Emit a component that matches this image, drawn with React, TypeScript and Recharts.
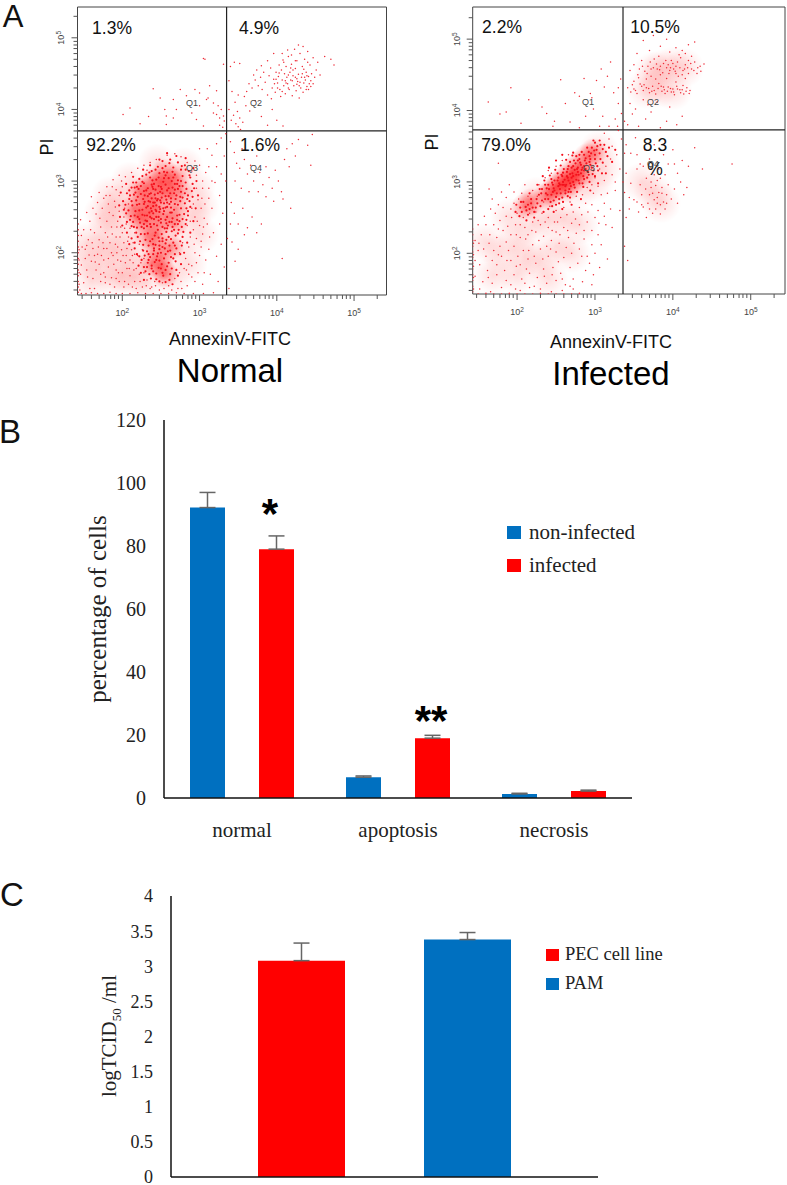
import React from 'react';
import {
  ScatterChart,
  Scatter,
  XAxis,
  YAxis,
  ReferenceLine,
  ReferenceArea,
  BarChart,
  Bar,
  ErrorBar,
  Legend,
} from 'recharts';

// Flow plots: values are log10(intensity) x 100
const normalUpper = [[201,393],[210,402],[223,380],[240,429],[249,416],[257,391],[266,414],[275,428],[305,471],[307,470],[283,419],[300,423],[313,433],[309,414],[322,426],[331,463],[322,393],[326,388],[331,391],[318,395],[257,379],[234,390],[296,386],[305,377],[290,395],[270,400],[300,405],[311,416],[255,400],[266,388],[294,428],[318,409],[324,405],[328,400],[330,375],[326,378],[332,384],[340,460],[345,466],[352,464],[338,440],[342,425],[346,410],[349,397],[352,388],[344,392],[347,380],[350,376],[353,372],[356,382],[360,405],[365,398],[372,412],[380,390],[388,378],[394,400],[400,385],[408,377],[350,420],[358,418],[338,400],[341,385]];
const normalCluster = [[361,425],[364,436],[368,430],[372,441],[370,448],[376,433],[379,445],[383,452],[381,428],[385,438],[388,420],[390,447],[392,458],[394,430],[396,442],[393,415],[398,424],[399,452],[401,437],[403,462],[402,446],[404,428],[405,418],[406,455],[407,441],[408,469],[409,433],[410,450],[411,422],[412,460],[413,445],[414,436],[415,474],[416,428],[417,452],[418,441],[419,463],[420,419],[421,447],[422,433],[423,484],[424,457],[425,426],[426,468],[427,439],[428,449],[429,416],[430,478],[431,430],[432,445],[433,460],[434,424],[435,437],[436,470],[437,441],[438,452],[439,432],[440,481],[441,446],[442,436],[443,462],[444,440],[445,450],[447,472],[449,445],[451,455],[453,466],[456,448],[462,474],[470,470],[474,462],[396,478],[388,468],[380,461],[374,455],[414,483],[428,490],[434,488],[440,466],[419,476],[407,478],[401,430],[397,436],[411,440],[415,430],[420,440],[424,445],[426,435],[430,438],[433,450],[436,445],[438,428],[441,428],[444,432],[447,436],[403,451],[418,458],[426,443],[412,437],[435,456],[409,466],[429,433],[421,455],[415,448],[399,442],[407,425],[424,468],[439,447]];
const normalLowerRight = [[340,355],[345,340],[348,325],[352,318],[355,345],[358,330],[362,310],[366,322],[370,300],[374,335],[378,312],[382,295],[386,320],[390,305],[394,290],[398,315],[402,300],[406,285],[410,330],[413,345],[416,320],[420,352],[424,335],[428,358],[440,350],[446,365],[444,322],[418,262],[408,275],[396,272],[386,278],[376,285],[364,285],[354,290],[346,300],[341,270],[345,255],[350,240],[356,262],[362,235],[368,250],[374,228],[380,240],[350,205],[342,215],[346,188],[358,225],[407,192]];
const normalCore = [[252,328],[262,330],[272,326],[281,322],[246,320],[256,321],[266,319],[276,316],[286,314],[238,314],[248,311],[258,312],[268,309],[278,307],[288,305],[226,307],[236,305],[244,302],[254,304],[264,300],[272,301],[282,298],[291,296],[218,298],[228,297],[238,295],[247,293],[256,295],[265,291],[274,293],[283,289],[290,286],[212,291],[221,289],[231,287],[240,289],[249,285],[258,287],[267,283],[276,285],[285,280],[206,283],[215,281],[224,282],[233,279],[242,281],[251,277],[260,279],[269,275],[278,277],[287,272],[209,275],[218,273],[227,275],[236,271],[245,273],[254,269],[263,271],[272,267],[281,269],[204,267],[213,266],[222,268],[231,263],[240,265],[249,261],[258,264],[267,260],[276,262],[285,258],[208,259],[217,258],[226,260],[235,256],[244,258],[253,254],[262,256],[271,252],[280,254],[211,251],[220,250],[229,252],[238,248],[247,250],[256,246],[265,248],[274,244],[283,246],[214,243],[223,242],[232,244],[241,240],[250,242],[259,238],[268,240],[277,236],[219,235],[228,234],[237,236],[246,232],[255,234],[264,230],[273,232],[224,226],[233,227],[242,224],[251,226],[260,222],[269,224],[278,222],[230,218],[239,219],[248,216],[257,218],[266,214],[275,216],[234,210],[243,211],[252,208],[261,210],[270,206],[232,202],[241,203],[250,200],[259,202],[268,198],[236,194],[245,195],[254,192],[263,194],[233,186],[242,187],[251,184],[260,186],[269,188],[238,178],[247,179],[256,176],[228,180],[264,178],[235,170],[244,171],[253,168],[262,170],[246,275],[235,282],[243,288],[252,283],[261,268],[244,266],[234,272],[254,258],[237,262],[247,245],[228,268],[220,278],[238,276],[250,270],[257,274],[229,280],[242,270],[248,264],[256,263],[233,290],[241,296],[260,290],[268,296],[275,272],[250,292],[240,255],[230,245],[258,250],[264,243],[245,238],[252,216],[240,212],[248,205],[256,198],[244,190],[250,178]];
const normalCoreFill = [[237,283],[251,289],[263,276],[229,271],[246,283],[272,289],[217,284],[258,270],[243,276],[239,301],[266,305],[224,293],[281,283],[253,299],[233,265],[212,272],[268,268],[248,257],[226,253],[283,262],[241,247],[261,243],[219,267],[274,253],[232,237],[252,236],[267,232],[243,228],[257,229],[236,216],[247,221],[263,219],[272,227],[229,226],[241,206],[255,206],[234,198],[266,192],[248,189],[258,181],[238,182],[252,172],[244,163],[261,162],[230,174],[270,176],[275,198],[223,216],[218,228],[210,246],[205,255],[214,298],[222,303],[231,309],[243,316],[252,318],[261,325],[277,321],[287,308],[293,290],[288,264],[282,240],[277,210],[239,292],[247,305],[256,308],[265,313],[271,296],[278,293],[284,275],[291,278],[236,240],[225,236],[215,236],[253,262],[263,263],[271,246],[278,247],[285,252],[240,270],[228,286],[219,292],[209,287],[201,272],[202,260],[206,243],[212,237],[220,222],[227,211],[229,196],[225,190],[232,180],[237,164],[248,160],[256,159],[265,156],[272,168],[276,184],[280,200],[284,214],[288,228],[292,244],[295,262],[298,280],[296,300],[292,318],[282,332],[270,335],[258,339],[248,330],[236,322],[227,316],[214,306],[205,296],[198,284],[196,266],[197,250],[200,238],[206,228],[212,220],[216,206],[219,198],[221,182],[224,172],[228,162],[240,174],[246,199],[252,220],[258,234],[264,256],[270,280],[276,300],[282,316],[238,258],[244,250],[232,252],[222,259],[210,280],[216,291],[226,299],[235,312],[254,313],[260,304],[268,288],[275,278],[262,283],[256,279],[249,273],[243,260],[236,250],[228,240],[222,247],[216,252],[250,247],[257,241],[265,236],[272,240],[279,229],[268,210],[262,203],[256,213],[248,210],[240,198],[234,190],[227,203],[222,195],[216,214],[209,212]];
const normalBody = [[300,322],[296,308],[304,290],[308,312],[312,276],[298,274],[302,262],[294,250],[290,262],[306,248],[300,238],[292,232],[296,220],[288,222],[304,226],[310,240],[316,262],[320,298],[322,320],[316,336],[310,345],[328,310],[332,335],[326,280],[330,255],[318,228],[328,212],[322,195],[312,205],[302,208],[294,200],[286,208],[282,192],[290,182],[298,172],[286,170],[280,178],[276,160],[268,164],[284,154],[272,150],[260,154],[252,158],[242,160],[232,162],[226,152],[236,150],[248,148],[222,170],[216,160],[210,168],[206,178],[214,186],[220,196],[212,204],[205,196],[198,188],[192,176],[186,165],[196,160],[202,152],[190,152],[178,158],[172,170],[182,180],[176,190],[188,196],[194,208],[202,214],[208,222],[214,214],[200,228],[192,222],[184,214],[176,206],[168,198],[160,188],[154,176],[162,164],[150,158],[158,150],[146,170],[152,192],[162,206],[170,218],[178,228],[186,236],[194,244],[202,250],[196,258],[188,252],[180,244],[172,236],[164,228],[156,218],[148,208],[150,232],[158,244],[166,254],[174,262],[182,268],[190,272],[196,280],[200,292],[192,288],[184,280],[176,276],[168,270],[180,292],[188,302],[196,308],[204,306],[212,312],[220,318],[228,322],[236,326],[244,330],[232,315],[162,262],[154,256],[170,284],[160,278],[146,246],[205,240],[198,236],[210,234],[216,228],[206,206],[222,212],[226,204],[218,178],[228,192],[224,186],[216,198],[210,190],[204,186],[200,172],[194,190],[186,200],[180,206],[170,184],[164,196],[176,172],[184,156],[192,164],[208,156],[218,150],[228,172],[238,152],[254,150],[264,148],[274,172],[286,184],[294,160],[304,156],[314,170],[324,160],[332,180],[338,150],[308,190],[300,196],[274,200],[278,214],[284,238],[288,244],[292,268],[296,290],[290,314],[284,326],[276,334],[268,338],[258,336],[294,328],[304,300],[312,320],[300,345],[322,352],[334,366],[328,360],[334,300],[340,240],[336,220],[326,240],[193,200],[181,222],[169,208],[157,197],[147,183],[155,166],[166,176],[178,166],[189,184],[199,204],[207,216],[197,222],[187,226],[175,214],[165,187],[152,205],[159,232],[171,248],[183,256],[193,236],[203,262],[191,264],[179,280],[187,292],[199,300],[208,268],[213,196],[201,196],[195,172],[182,192],[172,160],[164,150],[154,210],[147,224],[161,214],[173,196],[191,212],[203,234],[215,176],[209,178],[203,160],[213,152],[223,160],[231,154],[243,154],[277,150],[290,166],[283,176],[296,186],[306,172],[302,216],[293,212],[313,222],[305,236],[297,244],[303,276],[312,290],[307,268],[316,300]];
const normalEdge = [[143,145],[143,152],[143,160],[143,168],[143,176],[143,184],[143,192],[143,200],[143,208],[143,216],[143,224],[143,232],[143,240],[144,156],[144,172],[144,190],[144,204],[145,148],[147,143],[153,143],[160,144],[168,143],[176,143],[184,145],[192,143],[200,143],[210,143],[220,144],[230,143],[240,143],[250,143],[260,143],[270,144],[280,143],[292,143],[305,143],[318,144]];
const normalCoreHaze = [[240,275],[228,270],[252,285],[262,280],[245,262],[232,290],[250,298],[262,298],[270,305],[222,285],[215,262],[228,245],[245,240],[258,250],[270,262],[275,285],[240,210],[250,195],[245,225],[238,185],[255,170],[240,300],[255,312],[235,255],[268,240],[220,250],[250,180],[262,208],[232,225]];
const normalBodyHaze = [[190,200],[170,180],[210,230],[200,170],[180,230],[220,190],[270,210],[290,250],[295,290],[200,270],[160,160],[175,255],[150,190],[215,165],[265,165],[210,300],[280,320],[245,325],[285,185],[300,225],[190,165],[190,250],[205,205],[175,205],[155,215],[230,160],[300,265],[185,280]];

const infectedUpper = [[163,412],[178,395],[186,398],[192,432],[205,382],[215,415],[232,405],[248,385],[256,443],[262,410],[274,425],[288,392],[298,402],[306,378],[312,433],[238,396],[246,378],[268,384],[280,376],[296,418],[302,442],[308,458],[316,448],[324,425],[330,410],[334,396],[329,378],[326,388],[318,378],[310,392],[320,468],[294,424],[286,445],[280,420],[330,432],[333,444],[338,385],[342,380],[348,395],[356,378],[365,388],[372,398],[384,376],[392,385],[405,380],[412,392],[345,410],[352,402],[362,415],[368,408],[380,412],[396,405],[420,470],[440,465]];
const infectedCluster = [[342,432],[346,426],[350,441],[354,424],[358,437],[362,428],[366,444],[370,425],[374,434],[378,423],[382,438],[386,427],[390,424],[394,433],[398,426],[402,422],[406,430],[410,425],[414,423],[418,432],[345,456],[350,464],[355,450],[360,470],[364,455],[368,462],[372,448],[376,472],[380,458],[384,450],[388,466],[392,460],[395,452],[398,470],[401,458],[404,462],[407,448],[410,474],[413,456],[416,464],[420,452],[424,458],[428,468],[432,460],[436,455],[362,498],[375,505],[384,490],[392,500],[404,488],[412,484],[420,492],[428,496],[354,480],[370,484],[382,476],[396,482],[408,478],[416,480],[424,476],[360,434],[376,428],[388,433],[400,430],[412,429],[372,458],[384,462],[396,456],[404,452],[378,444],[392,445],[350,430],[366,432],[356,446],[416,445],[404,440],[422,428],[348,436],[352,428],[363,436],[369,431],[373,427],[381,431],[385,434],[389,429],[393,427],[397,431],[401,426],[405,434],[409,429],[413,435],[417,427],[421,424],[357,458],[361,462],[367,452],[371,468],[375,460],[379,465],[383,457],[387,453],[391,470],[394,464],[397,460],[400,466],[403,455],[406,468],[409,460],[412,450],[415,458],[419,460],[423,466],[427,456],[431,452],[435,462]];
const infectedLowerRight = [[340,352],[346,340],[352,362],[358,325],[364,345],[370,332],[376,352],[382,318],[388,338],[394,325],[400,345],[406,312],[412,330],[420,322],[428,348],[438,318],[340,312],[346,298],[350,275],[354,318],[358,296],[362,265],[366,305],[370,282],[374,256],[378,295],[380,270],[384,305],[386,284],[390,262],[394,296],[398,276],[402,290],[406,270],[410,300],[414,282],[418,292],[360,282],[368,270],[372,292],[376,275],[382,285],[388,272],[392,282],[356,258],[344,262],[338,285],[366,250],[384,255],[476,325],[354,338],[376,310],[390,310],[402,325],[372,318],[362,322],[344,278],[338,210],[342,190],[365,290],[374,284],[380,278],[386,292],[370,262],[378,262],[384,268],[372,300],[380,302],[392,270],[360,268],[354,272]];
const infectedCore = [[300,355],[306,358],[312,352],[296,348],[303,350],[310,346],[292,342],[299,344],[306,340],[314,342],[286,338],[293,336],[300,338],[307,332],[280,332],[287,330],[294,332],[301,326],[275,326],[282,324],[289,326],[296,320],[303,322],[270,320],[277,318],[284,320],[291,314],[298,316],[264,314],[271,312],[278,314],[285,308],[292,310],[258,308],[265,306],[272,308],[279,302],[286,304],[252,302],[259,300],[266,302],[273,296],[280,298],[246,296],[253,294],[260,296],[267,290],[274,292],[241,290],[248,288],[255,290],[262,284],[269,286],[237,284],[244,282],[251,284],[258,278],[265,280],[240,276],[247,274],[254,276],[232,290],[228,282],[236,296],[244,304],[252,312],[260,318],[268,328],[276,336],[268,298],[276,310],[284,298],[262,294],[270,306],[278,320],[286,316],[294,324],[254,298],[246,286],[254,270],[208,272],[214,268],[220,264],[212,260],[204,264],[218,276],[226,270],[278,330],[272,322],[264,308],[258,296],[282,312],[288,318],[266,286]];
const infectedCoreFill = [[274,317],[268,311],[281,327],[261,303],[255,296],[247,291],[239,282],[288,333],[295,340],[302,345],[283,317],[276,303],[269,294],[262,288],[250,279],[243,272],[236,276],[229,290],[235,302],[242,309],[249,317],[256,323],[263,331],[271,337],[290,306],[297,311],[304,316],[310,327],[316,336],[318,348],[307,352],[298,358],[290,348],[283,342],[272,341],[280,338],[266,322],[259,313],[253,306],[245,299],[238,291],[231,284],[225,276],[218,270],[211,265],[205,272],[199,268],[206,258],[214,254],[222,258],[230,266],[240,262],[250,268],[259,272],[268,278],[277,286],[285,293],[293,300],[300,308],[309,312],[273,330],[265,318],[257,310],[248,302],[240,296],[224,264],[216,262],[232,274],[245,266],[256,284],[263,296],[272,300],[279,310],[286,322],[293,328],[300,332],[216,284],[226,296],[233,308],[241,320],[250,330],[258,338],[203,252],[198,258],[212,246],[222,250],[234,258],[247,258],[258,262],[270,268],[282,276],[294,288],[304,298],[314,312],[322,328],[326,345]];
const infectedBody = [[318,360],[312,368],[322,350],[328,338],[320,332],[314,322],[306,318],[300,306],[296,296],[304,294],[312,302],[322,310],[332,318],[336,300],[326,288],[316,284],[308,282],[298,284],[290,292],[284,282],[276,280],[268,272],[260,264],[250,260],[242,266],[234,272],[226,280],[220,288],[228,296],[236,306],[240,316],[250,322],[258,330],[266,338],[244,312],[214,280],[206,284],[202,276],[196,270],[192,262],[200,256],[208,250],[216,256],[224,258],[232,256],[240,250],[248,244],[256,250],[264,254],[272,258],[280,264],[288,270],[296,268],[304,260],[312,252],[320,262],[300,250],[290,244],[280,240],[270,242],[260,236],[250,230],[240,236],[230,240],[220,244],[210,236],[198,240],[186,252],[178,246],[170,240],[182,232],[192,226],[204,222],[214,226],[224,230],[234,224],[244,218],[254,214],[266,222],[276,228],[286,220],[296,212],[304,226],[314,240],[300,200],[290,196],[280,206],[270,200],[260,194],[250,202],[240,196],[230,206],[220,212],[208,204],[196,210],[186,216],[174,222],[164,214],[154,226],[146,218],[150,204],[160,196],[170,204],[180,196],[192,190],[204,184],[214,192],[224,186],[234,178],[246,180],[256,172],[268,180],[278,186],[288,176],[298,170],[284,160],[272,164],[262,156],[250,162],[238,158],[226,166],[216,172],[206,164],[196,170],[184,176],[174,184],[162,176],[152,184],[146,168],[156,160],[168,158],[180,152],[192,156],[204,148],[216,152],[230,150],[244,146],[258,148],[272,150],[152,150],[166,146],[146,190],[150,240],[158,252],[166,262],[176,268],[186,278],[196,286],[210,296],[190,296],[180,286],[168,276],[338,340],[334,360],[330,372],[326,300],[312,270],[322,236],[332,260],[340,250],[308,212],[316,192],[296,156],[306,180],[176,326],[164,290],[211,220],[219,232],[227,246],[236,244],[245,232],[255,226],[265,232],[275,248],[283,254],[291,258],[199,226],[188,238],[176,234],[165,226],[157,206],[168,190],[178,210],[189,204],[201,196],[212,178],[222,196],[233,192],[243,206],[253,188],[263,208],[273,214],[283,196],[293,186],[305,242],[296,232],[286,232],[252,244],[238,210],[228,218],[215,204],[204,240],[193,250],[182,264],[172,256],[160,240],[151,214],[199,182],[187,190],[176,198],[163,166],[174,170],[186,162],[198,150],[210,158],[222,154],[235,168],[245,170],[258,164],[268,154]];
const infectedEdge = [[143,146],[143,154],[143,162],[143,170],[143,178],[143,186],[143,194],[143,202],[143,210],[143,218],[143,226],[143,234],[144,150],[144,166],[144,182],[144,198],[144,214],[150,143],[160,144],[170,143],[180,143],[190,144],[200,143],[210,143],[220,143],[230,144],[240,143],[250,143],[260,143],[270,143],[280,144]];
const infectedCoreHaze = [[270,315],[280,325],[262,305],[255,298],[245,285],[290,335],[298,342],[238,280],[270,300],[285,312],[210,265],[218,272],[250,292],[275,308],[262,290]];
const infectedBodyHaze = [[220,240],[240,250],[200,220],[180,200],[260,250],[250,210],[230,190],[280,240],[200,170],[170,170],[280,290],[225,280],[305,345],[310,320],[380,431],[400,428],[365,430],[385,458],[400,462],[375,455],[415,460],[375,285],[210,195],[270,200],[160,215],[190,250],[240,165],[300,300],[385,270],[360,300]];

const tickStepsInDecade = [0, 30, 48, 60, 70, 78, 85, 90, 95];
const flowTicks = [100, 200, 300, 400, 500].flatMap((d) => tickStepsInDecade.map((s) => d + s));

// Panel B
const cellStates = ['normal', 'apoptosis', 'necrosis'];
const nonInfected = [92.2, 6.6, 1.3];
const nonInfectedErr = [4.8, 0.4, 0.2];
const infected = [79.0, 19.0, 2.2];
const infectedErr = [4.2, 0.9, 0.3];

// Panel C
const pecTiter = [3.08];
const pecErr = [0.25];
const pamTiter = [3.38];
const pamErr = [0.1];

const SANS = '"Liberation Sans", Arial, sans-serif';
const SERIF = '"Liberation Serif", "Times New Roman", serif';
const RED = '#ff0000';
const BLUE = '#0070c0';

const stateRows = cellStates.map((name, i) => ({
  name,
  nonInfected: nonInfected[i],
  nonInfectedErr: [0, nonInfectedErr[i]],
  infected: infected[i],
  infectedErr: [0, infectedErr[i]],
}));
const titerRows = [{ name: '', pec: pecTiter[0], pecErr: [0, pecErr[0]], pam: pamTiter[0], pamErr: [0, pamErr[0]] }];

function Txt({ x, y, size, font = SANS, color = '#111', rotate = 0, weight = 'normal', children }: any) {
  return (
    <div
      style={{
        position: 'absolute',
        left: x,
        top: y,
        fontSize: size,
        fontFamily: font,
        fontWeight: weight,
        color,
        lineHeight: 1,
        whiteSpace: 'nowrap',
        transform: `translate(-50%, -50%) rotate(${rotate}deg)`,
      }}
    >
      {children}
    </div>
  );
}

function FlowXTick({ x, y, payload }: any) {
  const major = payload.value % 100 === 0;
  return (
    <g>
      <line x1={x} x2={x} y1={y} y2={y + (major ? 6 : 4)} stroke="#555" />
      {major && (
        <text x={x} y={y + 21} textAnchor="middle" fontSize={9} fontFamily={SANS} fill="#444">
          10<tspan dy={-3} fontSize={6.5}>{payload.value / 100}</tspan>
        </text>
      )}
    </g>
  );
}

function FlowYTick({ x, y, payload }: any) {
  const major = payload.value % 100 === 0;
  return (
    <g>
      <line x1={x} x2={x - (major ? 6 : 4)} y1={y} y2={y} stroke="#555" />
      {major && (
        <text x={x - 13} y={y} textAnchor="middle" fontSize={9} fontFamily={SANS} fill="#444" transform={`rotate(-90 ${x - 13} ${y})`}>
          10<tspan dy={-3} fontSize={6.5}>{payload.value / 100}</tspan>
        </text>
      )}
    </g>
  );
}

const smallDot = (p: any) => <circle cx={p.cx} cy={p.cy} r={0.75} fill="#ee2a36" />;
const bigDot = (p: any) => <circle cx={p.cx} cy={p.cy} r={1.1} fill="#f4101c" />;
const coreHazeDot = (p: any) => <circle cx={p.cx} cy={p.cy} r={14} fill="url(#coreHaze)" />;
const bodyHazeDot = (p: any) => <circle cx={p.cx} cy={p.cy} r={20} fill="url(#bodyHaze)" />;

const toPoints = (pts: number[][]) => pts.map(([x, y]) => ({ x, y }));

function FlowPlot({ left, frame, xDomain, yDomain, gateX, gateY, sparse, dense, coreHaze, bodyHaze }: any) {
  const width = frame.right + 10;
  const height = 330;
  return (
    <div style={{ position: 'absolute', left, top: 0 }}>
      <ScatterChart
        width={width}
        height={height}
        margin={{ left: frame.left - 30, top: frame.top, right: 10, bottom: height - frame.bottom - 30 }}
      >
        <XAxis type="number" dataKey="x" domain={xDomain} ticks={flowTicks.filter((t) => t >= xDomain[0] && t <= xDomain[1])} interval={0} tick={<FlowXTick />} tickSize={0} tickMargin={0} tickLine={false} axisLine={false} height={30} allowDataOverflow />
        <YAxis type="number" dataKey="y" domain={yDomain} ticks={flowTicks.filter((t) => t >= yDomain[0] && t <= yDomain[1])} interval={0} tick={<FlowYTick />} tickSize={0} tickMargin={0} tickLine={false} axisLine={false} width={30} allowDataOverflow />
        <Scatter data={toPoints(bodyHaze)} shape={bodyHazeDot} isAnimationActive={false} />
        <Scatter data={toPoints(coreHaze)} shape={coreHazeDot} isAnimationActive={false} />
        {sparse.map((pts: number[][], i: number) => (
          <Scatter key={i} data={toPoints(pts)} shape={smallDot} isAnimationActive={false} />
        ))}
        <Scatter data={toPoints(dense)} shape={bigDot} isAnimationActive={false} />
        <ReferenceArea x1={xDomain[0]} x2={xDomain[1]} y1={yDomain[0]} y2={yDomain[1]} fill="none" stroke="#444" strokeWidth={1} />
        <ReferenceLine x={gateX} stroke="#222" strokeWidth={1.2} />
        <ReferenceLine y={gateY} stroke="#222" strokeWidth={1.2} />
      </ScatterChart>
    </div>
  );
}

function SwatchLegend({ payload, gap, size, swatch, textGap }: any) {
  return (
    <div>
      {(payload || []).map((item: any) => (
        <div key={item.value} style={{ display: 'flex', alignItems: 'center', height: gap, fontFamily: SERIF, fontSize: size, color: '#222' }}>
          <span style={{ width: swatch, height: swatch - 1, background: item.color, marginRight: textGap }} />
          {item.value}
        </div>
      ))}
    </div>
  );
}

export default function App() {
  return (
    <div style={{ position: 'absolute', left: 0, top: 0, width: 787, height: 1185, background: '#fff', overflow: 'hidden' }}>
      <svg width={0} height={0} style={{ position: 'absolute' }}>
        <defs>
          <radialGradient id="coreHaze">
            <stop offset="0%" stopColor="#ff0000" stopOpacity={0.42} />
            <stop offset="100%" stopColor="#ff0000" stopOpacity={0} />
          </radialGradient>
          <radialGradient id="bodyHaze">
            <stop offset="0%" stopColor="#ff0000" stopOpacity={0.13} />
            <stop offset="100%" stopColor="#ff0000" stopOpacity={0} />
          </radialGradient>
        </defs>
      </svg>
      <FlowPlot
        left={0}
        frame={{ left: 77.5, right: 386.5, top: 7, bottom: 295 }}
        xDomain={[142, 542]}
        yDomain={[141, 543]}
        gateX={335}
        gateY={370}
        sparse={[normalBody, normalEdge, normalUpper, normalCluster, normalLowerRight]}
        dense={[...normalCore, ...normalCoreFill]}
        coreHaze={normalCoreHaze}
        bodyHaze={normalBodyHaze}
      />
      <FlowPlot
        left={400}
        frame={{ left: 72.7, right: 385, top: 7, bottom: 294 }}
        xDomain={[143, 544]}
        yDomain={[143, 545]}
        gateX={336}
        gateY={373}
        sparse={[infectedBody, infectedEdge, infectedUpper, infectedCluster, infectedLowerRight]}
        dense={[...infectedCore, ...infectedCoreFill]}
        coreHaze={infectedCoreHaze}
        bodyHaze={infectedBodyHaze}
      />

      <Txt x={13} y={16} size={31}>A</Txt>
      <Txt x={112} y={29} size={17.5}>1.3%</Txt>
      <Txt x={259} y={29} size={17.5}>4.9%</Txt>
      <Txt x={111} y={146} size={17.5}>92.2%</Txt>
      <Txt x={260} y={146} size={17.5}>1.6%</Txt>
      <Txt x={192} y={103} size={9} color="#444">Q1</Txt>
      <Txt x={256} y={103} size={9} color="#444">Q2</Txt>
      <Txt x={192} y={168} size={9} color="#444">Q3</Txt>
      <Txt x={256} y={168} size={9} color="#444">Q4</Txt>
      <Txt x={47} y={147} size={18} rotate={-90}>PI</Txt>
      <Txt x={230} y={339} size={18}>AnnexinV-FITC</Txt>
      <Txt x={230} y={370} size={33} color="#000">Normal</Txt>

      <Txt x={502} y={28} size={17.5}>2.2%</Txt>
      <Txt x={655} y={28} size={17.5}>10.5%</Txt>
      <Txt x={506} y={146} size={17.5}>79.0%</Txt>
      <Txt x={655} y={146} size={17.5}>8.3</Txt>
      <Txt x={655} y={170} size={17.5}>%</Txt>
      <Txt x={588} y={102} size={9} color="#444">Q1</Txt>
      <Txt x={653} y={102} size={9} color="#444">Q2</Txt>
      <Txt x={589} y={168} size={9} color="#444">Q3</Txt>
      <Txt x={653} y={164} size={9} color="#444">Q4</Txt>
      <Txt x={432} y={142} size={18} rotate={-90}>PI</Txt>
      <Txt x={611} y={342} size={18}>AnnexinV-FITC</Txt>
      <Txt x={611} y={373} size={33} color="#000">Infected</Txt>

      <Txt x={10} y={431} size={33}>B</Txt>
      <div style={{ position: 'absolute', left: 0, top: 400 }}>
        <BarChart width={700} height={470} data={stateRows} margin={{ left: 104, top: 20, right: 68, bottom: 12 }} barSize={35} barGap={34}>
          <XAxis dataKey="name" height={60} axisLine={{ stroke: '#111', strokeWidth: 1.5 }} tickLine={false} tickMargin={18} tick={{ fontSize: 21, fontFamily: SERIF, fill: '#222' }} />
          <YAxis domain={[0, 120]} ticks={[0, 20, 40, 60, 80, 100, 120]} interval={0} width={60} axisLine={{ stroke: '#111', strokeWidth: 1.5 }} tickLine={false} tickMargin={12} tick={{ fontSize: 20, fontFamily: SERIF, fill: '#222' }} />
          <Bar dataKey="nonInfected" name="non-infected" fill={BLUE} isAnimationActive={false}>
            <ErrorBar dataKey="nonInfectedErr" width={8} stroke="#666" strokeWidth={1.5} />
          </Bar>
          <Bar dataKey="infected" name="infected" fill={RED} isAnimationActive={false}>
            <ErrorBar dataKey="infectedErr" width={8} stroke="#666" strokeWidth={1.5} />
          </Bar>
          <Legend layout="vertical" align="center" verticalAlign="middle" itemSorter={null} wrapperStyle={{ left: 507, top: 116, width: 140 }} content={<SwatchLegend gap={33} size={21} swatch={14} textGap={8} />} />
        </BarChart>
      </div>
      <Txt x={97} y={609} size={25} font={SERIF} color="#222" rotate={-90}>percentage of cells</Txt>
      <Txt x={270} y={514} size={42} weight="bold" color="#000">*</Txt>
      <Txt x={431} y={721} size={42} weight="bold" color="#000">**</Txt>

      <Txt x={12} y={894} size={33}>C</Txt>
      <div style={{ position: 'absolute', left: 0, top: 870 }}>
        <BarChart width={700} height={315} data={titerRows} margin={{ left: 111, top: 26, right: 102, bottom: 3 }} barSize={87} barGap={79}>
          <XAxis dataKey="name" height={5} tick={false} axisLine={{ stroke: '#111', strokeWidth: 1.5 }} tickLine={false} />
          <YAxis domain={[0, 4]} ticks={[0, 0.5, 1, 1.5, 2, 2.5, 3, 3.5, 4]} interval={0} width={60} axisLine={{ stroke: '#111', strokeWidth: 1.5 }} tickLine={false} tickMargin={12} tick={{ fontSize: 18, fontFamily: SERIF, fill: '#222' }} />
          <Bar dataKey="pec" name="PEC cell line" fill={RED} isAnimationActive={false}>
            <ErrorBar dataKey="pecErr" width={8} stroke="#666" strokeWidth={1.5} />
          </Bar>
          <Bar dataKey="pam" name="PAM" fill={BLUE} isAnimationActive={false}>
            <ErrorBar dataKey="pamErr" width={8} stroke="#666" strokeWidth={1.5} />
          </Bar>
          <Legend layout="vertical" align="center" verticalAlign="middle" itemSorter={null} wrapperStyle={{ left: 546, top: 70, width: 140 }} content={<SwatchLegend gap={29} size={18.5} swatch={13} textGap={6} />} />
        </BarChart>
      </div>
      <Txt x={111} y={1036} size={21} font={SERIF} color="#222" rotate={-90}>
        logTCID<sub style={{ fontSize: 13 }}>50</sub> /ml
      </Txt>
    </div>
  );
}
